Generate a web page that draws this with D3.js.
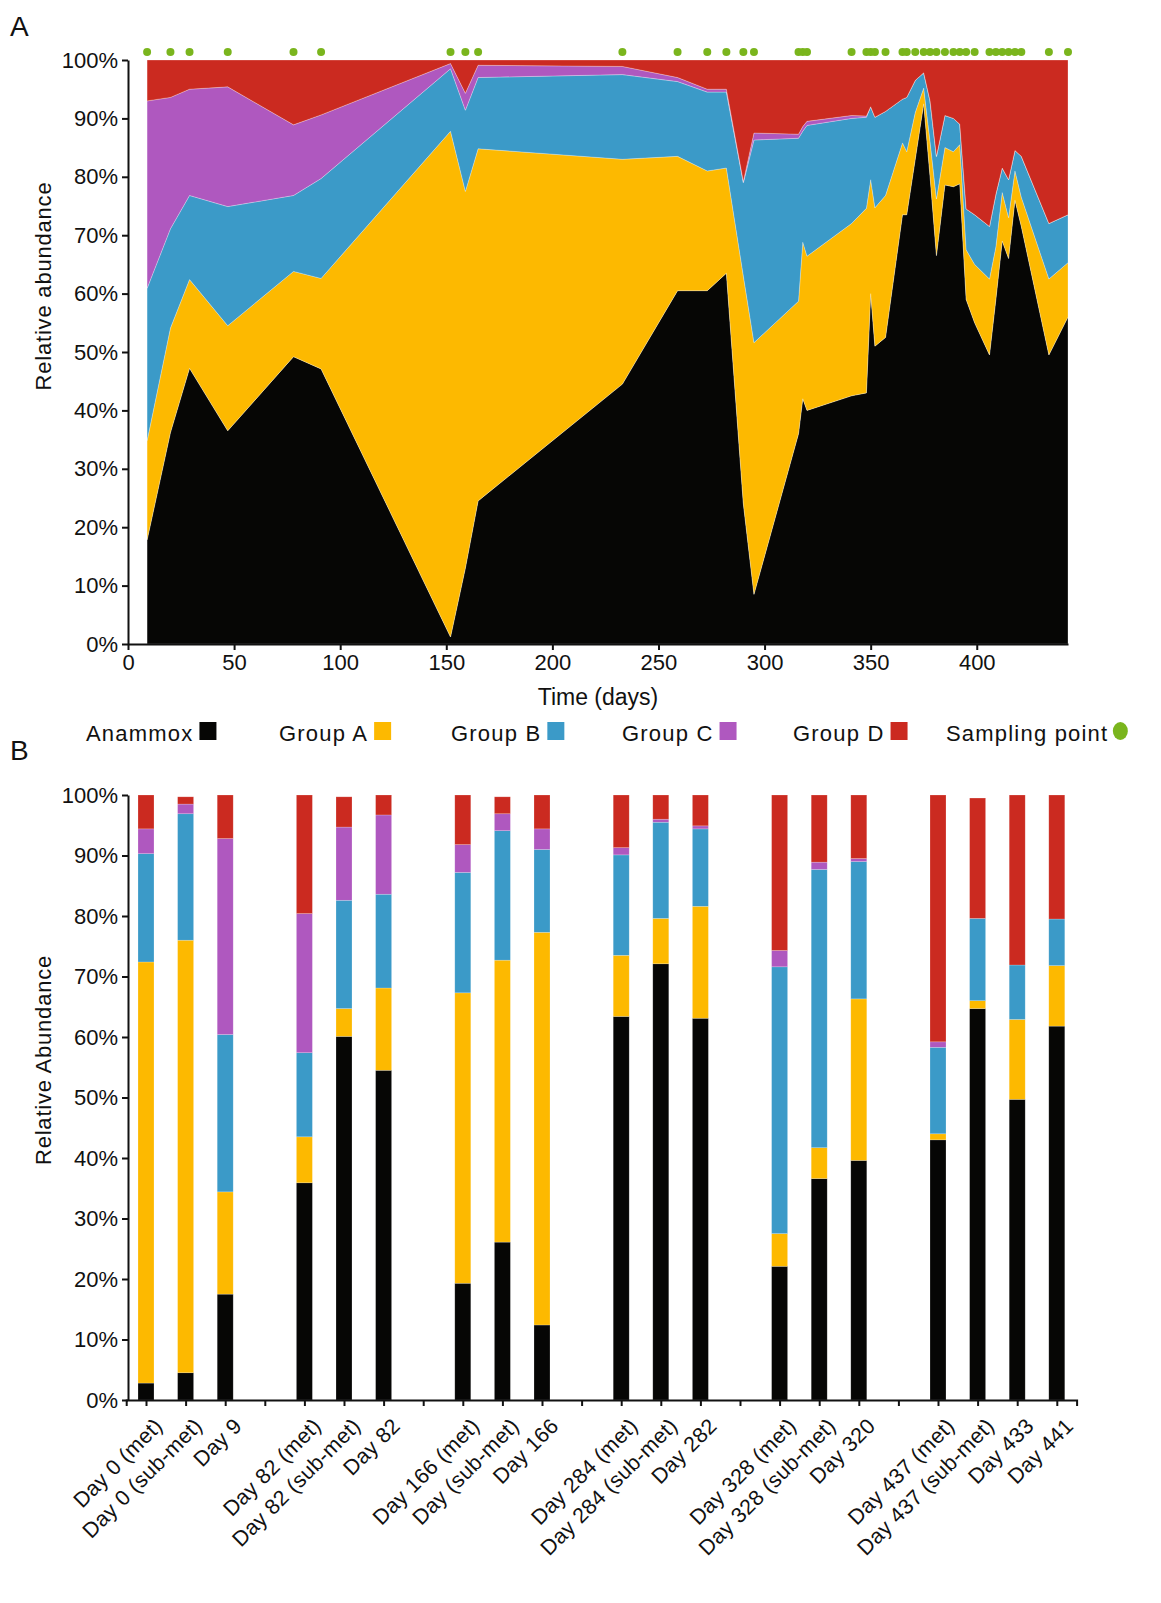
<!DOCTYPE html>
<html>
<head>
<meta charset="utf-8">
<script src="https://cdn.jsdelivr.net/npm/d3@7"></script>
<style>
  body { margin: 0; background: #fff; }
  text { font-family: "Liberation Sans", Arial, Helvetica, sans-serif; fill: #111; }
</style>
</head>
<body>
<div id="chart"></div>
<script>
// ---- Panel A: time series (sampling days) ----
const days = [9, 20, 29, 47, 78, 91, 152, 159, 165, 233, 259, 273, 282, 290, 295, 316, 318, 320, 341, 348, 350,
  352, 357, 365, 367, 371, 375, 378, 381, 385, 389, 392, 395, 399, 406, 409, 412, 415, 418, 421, 434, 443];
const anammox = [17.8, 36.2, 47.2, 36.5, 49.2, 47.1, 1.2, 13.0, 24.5, 44.5, 60.5, 60.5, 63.5, 24.0, 8.5, 36.0, 42.0, 40.0, 42.5, 43.0, 60.0,
  51.0, 52.5, 73.5, 73.5, 83.0, 92.5, 80.0, 66.5, 78.6, 78.3, 78.8, 59.0, 55.0, 49.5, 59.0, 69.0, 66.0, 76.0, 71.5, 49.5, 56.0];
const groupA = [17.0, 17.9, 15.2, 18.0, 14.6, 15.5, 86.6, 64.5, 60.3, 38.5, 23.0, 20.5, 18.0, 39.0, 43.1, 22.7, 26.8, 26.4, 29.5, 31.6, 19.5,
  23.7, 24.3, 12.3, 10.8, 8.0, 2.7, 6.0, 9.7, 6.4, 6.0, 6.7, 8.5, 10.0, 13.0, 9.0, 8.3, 7.0, 5.0, 5.0, 13.0, 9.3];
const groupB = [26.1, 17.0, 14.4, 20.4, 13.0, 17.1, 10.7, 13.9, 12.2, 14.5, 12.8, 13.5, 13.0, 16.0, 34.7, 27.9, 19.0, 22.4, 18.0, 15.6, 12.5,
  15.5, 14.4, 7.5, 9.3, 5.5, 2.6, 7.0, 7.3, 5.5, 5.7, 3.5, 7.0, 8.5, 9.0, 9.0, 4.2, 6.5, 3.5, 7.0, 9.5, 8.2];
const groupC = [32.1, 22.5, 18.2, 20.5, 12.1, 10.9, 0.9, 2.9, 2.1, 1.4, 0.7, 0.5, 0.5, 0.2, 1.2, 0.7, 0.8, 0.7, 0.5, 0.2, 0,
  0, 0, 0, 0, 0, 0, 0, 0, 0, 0, 0, 0, 0, 0, 0, 0, 0, 0, 0, 0, 0];
const groupD = [7.0, 6.4, 5.0, 4.6, 11.1, 9.4, 0.6, 5.7, 0.9, 1.1, 3.0, 5.0, 5.0, 20.8, 12.5, 12.7, 11.4, 10.5, 9.5, 9.6, 8.0,
  9.8, 8.8, 6.7, 6.4, 3.5, 2.2, 7.0, 16.5, 9.5, 10.0, 11.0, 25.5, 26.5, 28.5, 23.0, 18.5, 20.5, 15.5, 16.5, 28.0, 26.5];

// ---- Panel B: per-sample bars, in groups ----
const barGroups = [
  ["Day 0 (met)", "Day 0 (sub-met)", "Day 9"],
  ["Day 82 (met)", "Day 82 (sub-met)", "Day 82"],
  ["Day 166 (met)", "Day (sub-met)", "Day 166"],
  ["Day 284 (met)", "Day 284 (sub-met)", "Day 282"],
  ["Day 328 (met)", "Day 328 (sub-met)", "Day 320"],
  ["Day 437 (met)", "Day 437 (sub-met)", "Day 433", "Day 441"]
];
const barAnammox = [2.8, 4.5, 17.5, 35.9, 60.1, 54.5, 19.3, 26.1, 12.4, 63.4, 72.1, 63.1, 22.1, 36.6, 39.6, 43.0, 64.7, 49.7, 61.8];
const barGroupA  = [69.6, 71.5, 16.9, 7.6, 4.6, 13.6, 48.0, 46.6, 64.9, 10.1, 7.5, 18.5, 5.4, 5.1, 26.7, 1.0, 1.3, 13.2, 10.0];
const barGroupB  = [17.9, 20.9, 26.0, 13.9, 17.9, 15.5, 19.9, 21.4, 13.7, 16.6, 15.9, 12.8, 44.1, 46.0, 22.7, 14.3, 13.6, 9.0, 7.7];
const barGroupC  = [4.1, 1.6, 32.4, 23.0, 12.1, 13.1, 4.6, 2.8, 3.4, 1.2, 0.5, 0.5, 2.7, 1.2, 0.5, 0.9, 0, 0, 0];
const barGroupD  = [5.6, 1.2, 7.2, 19.6, 5.0, 3.3, 8.2, 2.8, 5.6, 8.7, 4.0, 5.1, 25.7, 11.1, 10.5, 40.8, 19.9, 28.1, 20.5];

const yTicks = d3.range(0, 101, 10);
const xTicksA = [0, 50, 100, 150, 200, 250, 300, 350, 400];

const keys = ["anammox", "groupA", "groupB", "groupC", "groupD"];
const legendNames = ["Anammox", "Group A", "Group B", "Group C", "Group D"];
const colors = ["#060605", "#fdb900", "#3b9ac8", "#af58bf", "#cb2a20"];
const dotColor = "#7ab51d";

const W = 1161, H = 1603;
const svg = d3.select("#chart").append("svg")
  .attr("width", W).attr("height", H)
  .attr("viewBox", `0 0 ${W} ${H}`);

const color = d3.scaleOrdinal().domain(keys).range(colors);

// ================= Panel A =================
const xA = d3.scaleLinear().domain([0, 443]).range([128, 1068]);
const yA = d3.scaleLinear().domain([0, 100]).range([644, 60]);

const rowsA = days.map((d, i) => ({
  day: d, anammox: anammox[i], groupA: groupA[i], groupB: groupB[i], groupC: groupC[i], groupD: groupD[i]
}));
const seriesA = d3.stack().keys(keys)(rowsA);

const area = d3.area()
  .x(d => xA(d.data.day))
  .y0(d => yA(d[0]))
  .y1(d => yA(d[1]));

svg.append("g")
  .selectAll("path")
  .data(seriesA)
  .join("path")
  .attr("d", area)
  .style("fill", d => color(d.key))
  .style("stroke", "rgba(255,255,255,0.45)")
  .style("stroke-width", 0.6);

// sampling points
svg.append("g")
  .selectAll("circle")
  .data(days)
  .join("circle")
  .attr("cx", d => xA(d))
  .attr("cy", 52)
  .attr("r", 4)
  .style("fill", dotColor);

const axA_y = svg.append("g")
  .attr("transform", `translate(${xA(0)},0)`)
  .call(d3.axisLeft(yA).tickValues(yTicks).tickFormat(d => d + "%").tickSize(6).tickSizeOuter(0).tickPadding(4));
const axA_x = svg.append("g")
  .attr("transform", `translate(0,${yA(0)})`)
  .call(d3.axisBottom(xA).tickValues(xTicksA).tickSize(6).tickSizeOuter(0).tickPadding(4));

[axA_y, axA_x].forEach(g => {
  g.selectAll("path, line").style("stroke", "#111").style("stroke-width", 2);
  g.selectAll("text").style("font-size", "22px").style("fill", "#111");
});

svg.append("text")
  .attr("x", 598).attr("y", 705)
  .attr("text-anchor", "middle")
  .style("font-size", "23px")
  .text("Time (days)");

svg.append("text")
  .attr("transform", "translate(51,286) rotate(-90)")
  .attr("text-anchor", "middle")
  .style("font-size", "22px")
  .style("letter-spacing", "0.8px")
  .text("Relative abundance");

svg.append("text").attr("x", 10).attr("y", 36).style("font-size", "28px").text("A");
svg.append("text").attr("x", 10).attr("y", 760).style("font-size", "28px").text("B");

// legend
const legendX = [86, 279, 451, 622, 793];
const legend = svg.append("g");
legendNames.forEach((name, i) => {
  const t = legend.append("text")
    .attr("x", legendX[i]).attr("y", 741)
    .style("font-size", "22px")
    .style("letter-spacing", "1.2px")
    .text(name);
  const w = t.node().getComputedTextLength();
  legend.append("rect")
    .attr("x", legendX[i] + w + 6).attr("y", 722)
    .attr("width", 17).attr("height", 18)
    .style("fill", colors[i]);
});
const sp = legend.append("text")
  .attr("x", 946).attr("y", 741)
  .style("font-size", "22px")
  .style("letter-spacing", "1.2px")
  .text("Sampling point");
legend.append("ellipse")
  .attr("cx", 946 + sp.node().getComputedTextLength() + 12).attr("cy", 731)
  .attr("rx", 7.5).attr("ry", 9)
  .style("fill", dotColor);

// ================= Panel B =================
const barLabels = barGroups.flat();
const slots = [];
barGroups.forEach((g, gi) => {
  g.forEach(l => slots.push(l));
  if (gi < barGroups.length - 1) slots.push("gap" + gi);
});

const xB = d3.scalePoint().domain(slots).range([126.2, 1076.6]).padding(0.5);
const yB = d3.scaleLinear().domain([0, 100]).range([1400, 795]);
const barW = 16;

const rowsB = barLabels.map((l, i) => ({
  label: l, anammox: barAnammox[i], groupA: barGroupA[i], groupB: barGroupB[i], groupC: barGroupC[i], groupD: barGroupD[i]
}));
const seriesB = d3.stack().keys(keys)(rowsB);

svg.append("g")
  .selectAll("g")
  .data(seriesB)
  .join("g")
  .style("fill", d => color(d.key))
  .selectAll("rect")
  .data(d => d)
  .join("rect")
  .attr("x", d => xB(d.data.label) - barW / 2)
  .attr("y", d => yB(d[1]))
  .attr("width", barW)
  .attr("height", d => Math.max(0, yB(d[0]) - yB(d[1])))
  .style("stroke", "rgba(255,255,255,0.35)")
  .style("stroke-width", 0.6);

const axB_y = svg.append("g")
  .attr("transform", "translate(128,0)")
  .call(d3.axisLeft(yB).tickValues(yTicks).tickFormat(d => d + "%").tickSize(6).tickSizeOuter(0).tickPadding(4));
const axB_x = svg.append("g")
  .attr("transform", `translate(0,${yB(0)})`)
  .call(d3.axisBottom(xB).tickFormat(d => d.startsWith("gap") ? "" : d).tickSize(6).tickSizeOuter(6).tickPadding(6));

[axB_y, axB_x].forEach(g => {
  g.selectAll("path, line").style("stroke", "#111").style("stroke-width", 2);
  g.selectAll("text").style("font-size", "22px").style("fill", "#111");
});
axB_x.selectAll("text")
  .attr("text-anchor", "end")
  .attr("dx", "-2")
  .attr("dy", "0.35em")
  .attr("transform", "translate(5,12) rotate(-45)")
  .style("font-size", "21.5px")
  .style("letter-spacing", "0.3px");

svg.append("text")
  .attr("transform", "translate(51,1060) rotate(-90)")
  .attr("text-anchor", "middle")
  .style("font-size", "22px")
  .style("letter-spacing", "0.8px")
  .text("Relative Abundance");
</script>
</body>
</html>
